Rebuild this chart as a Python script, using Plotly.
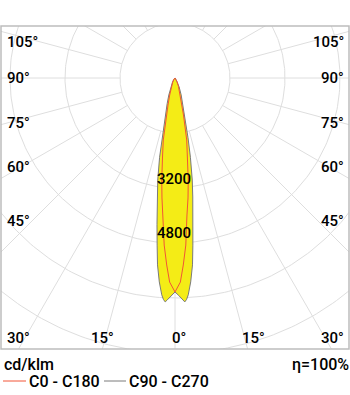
import numpy as np
import plotly.graph_objects as go

# ---- data (cd/klm) ----
gamma_c90 = [0, 1, 2, 2.5, 3, 3.5, 4.4, 5.35, 6.1, 7, 7.4, 8.5, 9.6, 11, 12.3, 14.4, 17, 20, 25, 30, 40, 50, 60, 90]
cd_c90 = [6225, 6330, 6460, 6520, 6450, 6320, 5950, 5460, 4890, 4300, 4020, 3500, 3010, 2350, 1780, 1110, 780, 525, 280, 150, 60, 25, 10, 0]
gamma_c0 = [0, 1.5, 2.54, 3.7, 5.0, 6.2, 7.4, 8.9, 10.7, 12.9, 14.5, 17.3, 22, 30, 45, 90]
cd_c0 = [6225, 5940, 5445, 4870, 4000, 3510, 2990, 2356, 1835, 1105, 811, 518, 270, 130, 30, 0]
ring_values = [1600, 3200, 4800, 6400, 8000]
ring_labels = ["3200", "4800"]
side_ticks = ["105°", "90°", "75°", "60°", "45°"]
bottom_ticks = ["30°", "15°", "0°", "15°", "30°"]
series_names = ["C0 - C180", "C90 - C270"]
unit_text = "cd/klm"
eff_text = "η=100%"

# ---- layout geometry ----
W, H = 350, 395
ML, MR, MT, MB = 1, 1, 26, 46
PW, PH = W - ML - MR, H - MT - MB
CX, CY = 175, 78           # pixel position of the pole
PX_PER_CD = 55 / 1600.0

xr = [-(CX - ML) / PX_PER_CD, (ML + PW - CX) / PX_PER_CD]
yr = [-(MT + PH - CY) / PX_PER_CD, (CY - MT) / PX_PER_CD]


def px(xp):
    return (xp - ML) / PW


def py(yp):
    return 1 - (yp - MT) / PH


def full_outline(g, v):
    g = np.asarray(g, float)
    v = np.asarray(v, float)
    ang = np.concatenate([-g[::-1], g[1:]])
    val = np.concatenate([v[::-1], v[1:]])
    t = np.radians(ang)
    return val * np.sin(t), -val * np.cos(t)


fig = go.Figure()
GRID = "#dedede"
RED = "rgb(242,85,55)"
GRAY = "#7a7a7a"

# rings
th = np.linspace(0, 2 * np.pi, 361)
for rv in ring_values:
    fig.add_trace(go.Scatter(x=rv * np.sin(th), y=rv * np.cos(th), mode="lines",
                             line=dict(color=GRID, width=1), hoverinfo="skip", showlegend=False))
# radial lines every 15 degrees, from the first ring outwards
for a in range(0, 360, 15):
    t = np.radians(a)
    r0, r1 = ring_values[0], 20000
    fig.add_trace(go.Scatter(x=[r0 * np.sin(t), r1 * np.sin(t)], y=[-r0 * np.cos(t), -r1 * np.cos(t)],
                             mode="lines", line=dict(color=GRID, width=1), hoverinfo="skip", showlegend=False))

# C90 - C270 (filled)
x90, y90 = full_outline(gamma_c90, cd_c90)
fig.add_trace(go.Scatter(x=x90, y=y90, mode="lines", fill="toself", fillcolor="rgb(244,236,22)",
                         line=dict(color=GRAY, width=1), name=series_names[1], showlegend=False))
# C0 - C180
x0, y0 = full_outline(gamma_c0, cd_c0)
fig.add_trace(go.Scatter(x=x0, y=y0, mode="lines", line=dict(color=RED, width=1),
                         name=series_names[0], showlegend=False))

TXT = "#000000"
FONT = "Roboto"
ann = []
side_y = [42, 78, 122.5, 167.5, 221]
for lab, yy in zip(side_ticks, side_y):
    ann.append(dict(x=px(5), y=py(yy), text=lab, xanchor="left", yanchor="middle"))
    ann.append(dict(x=px(346), y=py(yy), text=lab, xanchor="right", yanchor="middle"))
bx = [(5, "left"), (102, "center"), (179, "center"), (253, "center"), (346, "right")]
for lab, (xx, anc) in zip(bottom_ticks, bx):
    ann.append(dict(x=px(xx), y=py(337.5), text=lab, xanchor=anc, yanchor="middle"))
for lab, yy in zip(ring_labels, [178.5, 233]):
    ann.append(dict(x=px(173.5), y=py(yy), text=lab, xanchor="center", yanchor="middle"))
for a in ann:
    a.update(xref="paper", yref="paper", showarrow=False,
             font=dict(family=FONT, size=15, color=TXT, weight=500))

bottom = [
    dict(x=px(2), y=py(364), text=unit_text, xanchor="left"),
    dict(x=px(351), y=py(364), text=eff_text, xanchor="right"),
    dict(x=px(27), y=py(381), text=series_names[0], xanchor="left"),
    dict(x=px(127), y=py(381), text=series_names[1], xanchor="left"),
]
for a in bottom:
    a.update(xref="paper", yref="paper", yanchor="middle", showarrow=False,
             font=dict(family=FONT, size=16, color=TXT, weight=500))
ann += bottom

shapes = [
    dict(type="rect", xref="paper", yref="paper", x0=0, x1=1, y0=0, y1=1,
         line=dict(color="#bdbdbd", width=1.5)),
    dict(type="line", xref="paper", yref="paper", x0=px(3), x1=px(26), y0=py(381), y1=py(381),
         line=dict(color=RED, width=1)),
    dict(type="line", xref="paper", yref="paper", x0=px(104), x1=px(126), y0=py(381), y1=py(381),
         line=dict(color=GRAY, width=1)),
]

fig.update_layout(
    width=W, height=H, margin=dict(l=ML, r=MR, t=MT, b=MB, pad=0),
    paper_bgcolor="white", plot_bgcolor="white", showlegend=False,
    xaxis=dict(range=xr, visible=False, fixedrange=True),
    yaxis=dict(range=yr, visible=False, fixedrange=True),
    annotations=ann, shapes=shapes,
)
fig.write_html("out.html")
